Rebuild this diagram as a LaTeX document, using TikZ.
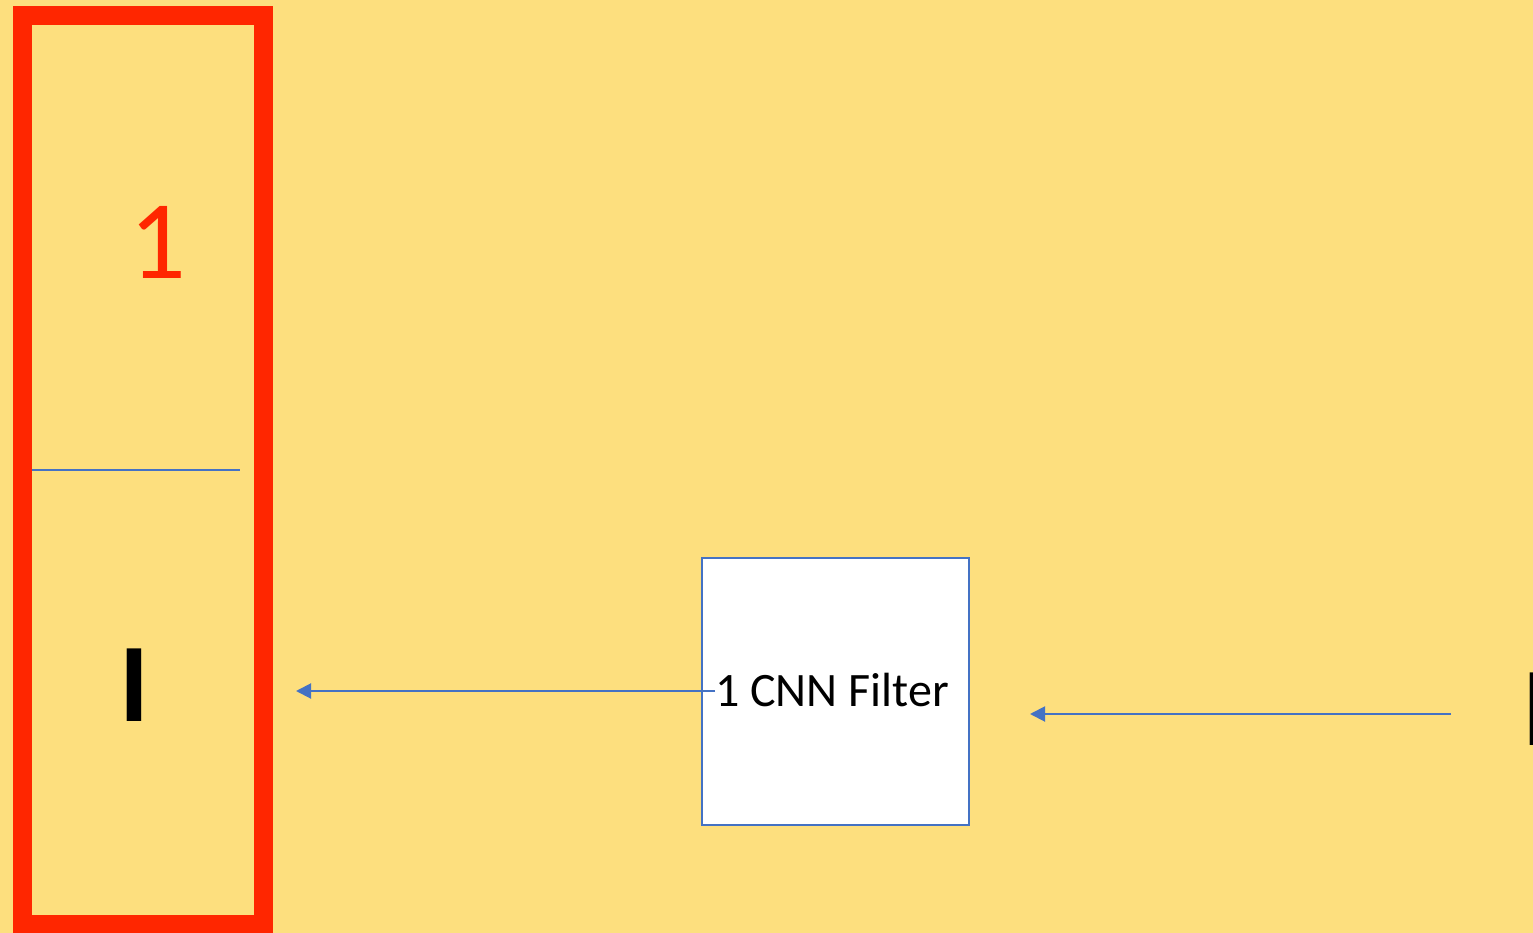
\documentclass[tikz,border=0pt]{standalone}
\usepackage{fontspec}
\setmainfont{Carlito}
\usetikzlibrary{arrows.meta}
\definecolor{bgyellow}{RGB}{253,223,126}
\definecolor{framered}{RGB}{255,38,0}
\definecolor{lineblue}{RGB}{68,114,196}
\tikzset{
  flow/.style={draw=lineblue, line width=2pt, -{Triangle[length=15pt,width=15pt]}},
  bigtext/.style={inner sep=0pt, font=\fontsize{112}{130}\selectfont},
}
\begin{document}
\begin{tikzpicture}[x=1pt,y=1pt,yscale=-1]
%Background
\fill [bgyellow] (0,0) rectangle (1533,933);
\useasboundingbox (0,0) rectangle (1533,933);

%Shape: Rectangle [id:frame]
\draw [framered, line width=19pt] (22.5,15.5) rectangle (263.5,924.5);
%Straight Lines [id:divider]
\draw [lineblue, line width=2pt] (32,470) -- (240,470);

% Text Node
\node (one) [bigtext, text=framered, anchor=base] at (158,278) {1};
% Text Node
\node (bar) [bigtext, font=\fontsize{112}{130}\selectfont\bfseries, anchor=base] at (134,721) {I};
% Text Node
\node (edge) [bigtext, font=\fontsize{112}{130}\selectfont\bfseries, anchor=base west] at (1522,745) {I};

%Shape: Square [id:filter]
\node (filter) [draw=lineblue, line width=2pt, fill=white, minimum width=267pt, minimum height=267pt, inner sep=0pt] at (835.5,691.5) {};
% Text Node
\node (ftext) [inner sep=0pt, font=\fontsize{48}{56}\selectfont, anchor=base west] at (715,706) {1 CNN Filter};

%Arrows
\coordinate (outtip) at (296,691);
\coordinate (instart) at (1451,714);
\coordinate (intip) at (1030,714);
\draw [flow] (ftext.west |- outtip) -- (outtip);
\draw [flow] (instart) -- (intip);
\end{tikzpicture}
\end{document}
